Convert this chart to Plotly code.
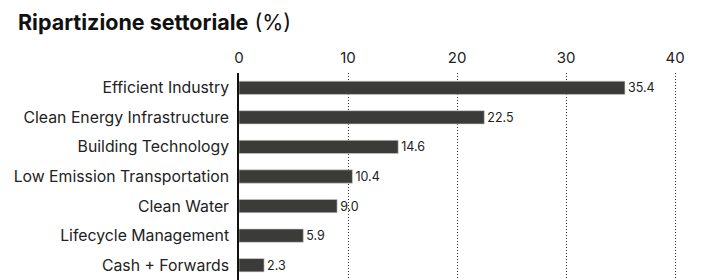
import plotly.graph_objects as go

categories = ["Efficient Industry", "Clean Energy Infrastructure", "Building Technology",
              "Low Emission Transportation", "Clean Water", "Lifecycle Management", "Cash + Forwards"]
values = [35.4, 22.5, 14.6, 10.4, 9.0, 5.9, 2.3]
labels = ["35.4", "22.5", "14.6", "10.4", "9.0", "5.9", "2.3"]
tick_vals = [0, 10, 20, 30, 40]

FONT = "Inter, Roboto, sans-serif"

# page body has an 8px default margin; figure sized to fill the rest of the window
W, H = 699, 272

fig = go.Figure(go.Bar(
    x=values, y=categories, orientation="h",
    marker=dict(color="#3b3b39", line=dict(color="#d0d0cc", width=0.6)),
    width=0.45,
    text=labels, textposition="outside", cliponaxis=False, constraintext="none",
    textfont=dict(family=FONT, size=12.5, color="#222"),
))

fig.update_layout(
    width=W, height=H,
    margin=dict(l=231, r=9, t=65, b=0, autoexpand=False),
    paper_bgcolor="white", plot_bgcolor="white",
    showlegend=False,
    font=dict(family=FONT, color="#222"),
    title=dict(text="<b>Ripartizione settoriale</b> (%)", x=10 / W, xref="container", xanchor="left",
               y=1 - 14 / H, yref="container", yanchor="middle",
               font=dict(family=FONT, size=21.5, color="#111")),
    xaxis=dict(range=[0, 42.1], side="top", tickvals=tick_vals, automargin=False,
               tickfont=dict(family=FONT, size=15, color="#222"),
               showgrid=True, gridcolor="#333", griddash="1px,2px", gridwidth=1,
               zeroline=False, showline=False, ticks="", ticklabelstandoff=6),
    yaxis=dict(autorange="reversed", showline=True, linecolor="#111", linewidth=1.5,
               automargin=False,
               tickfont=dict(family=FONT, size=15.8, color="#222"), ticks="",
               ticklabelstandoff=5, showgrid=False),
)

fig.write_html("out.html")
